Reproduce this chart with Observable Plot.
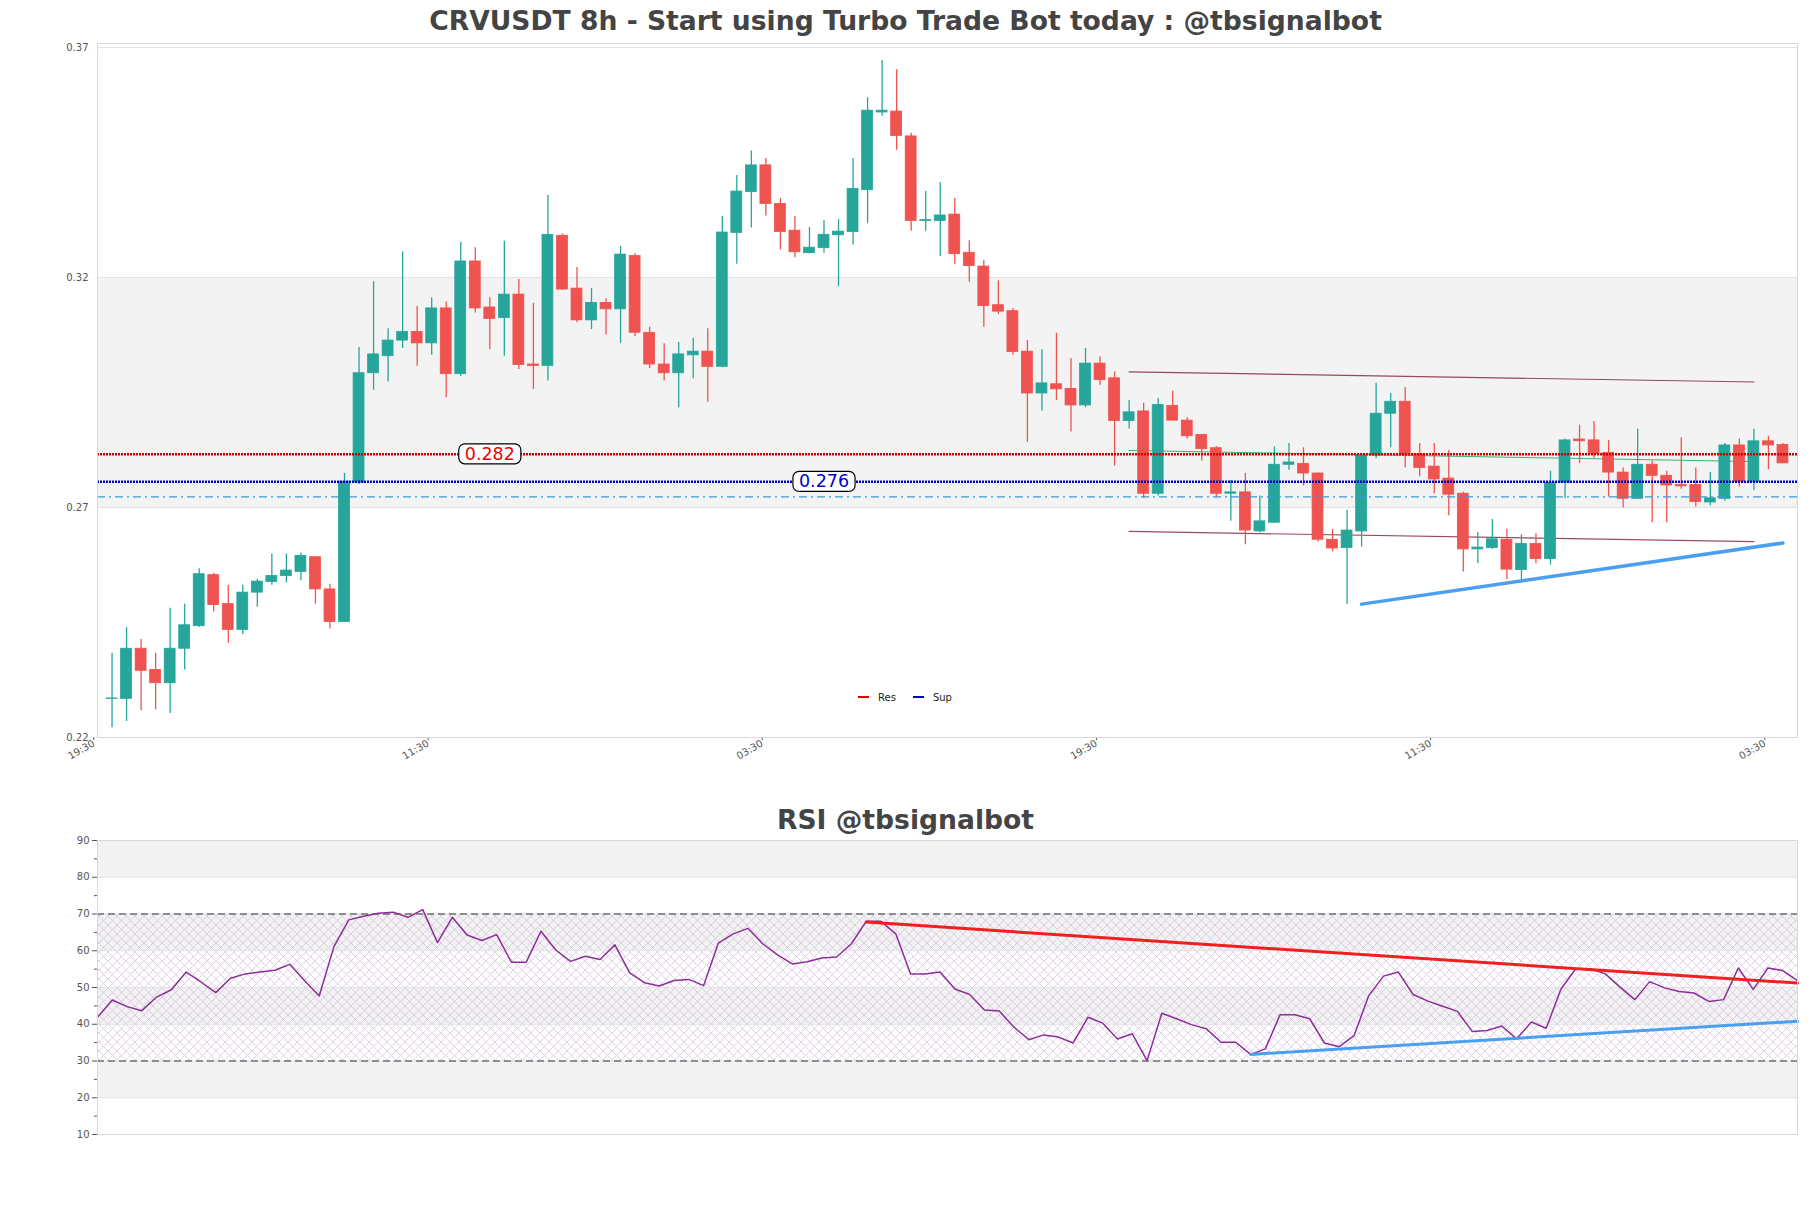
<!DOCTYPE html>
<html>
<head>
<meta charset="utf-8">
<script src="https://cdn.jsdelivr.net/npm/d3@7"></script>
<script src="https://cdn.jsdelivr.net/npm/@observablehq/plot@0.6"></script>
<style>
  html, body { margin: 0; padding: 0; background: #fff; }
  #page { position: relative; width: 1811px; height: 1208px; overflow: hidden; font-family: "DejaVu Sans", sans-serif; }
  .title { position: absolute; left: 0; width: 1811px; text-align: center; font-weight: bold; font-size: 26.6px; line-height: 30px; color: #444; white-space: nowrap; }
  .plotbox { position: absolute; left: 0; }
  #legend { position: absolute; left: 858px; top: 690px; font-size: 10px; color: #222; display: flex; align-items: center; height: 14px; }
  #legend .sw { display: inline-block; width: 11px; height: 2px; margin-right: 9px; }
  #legend .item { display: flex; align-items: center; margin-right: 17px; }
</style>
</head>
<body>
<svg width="0" height="0" style="position:absolute">
  <defs>
    <pattern id="rsiHatch" patternUnits="userSpaceOnUse" width="9" height="9">
      <path d="M0,0L9,9M9,0L0,9" stroke="#cbb5d8" stroke-width="0.6" fill="none"/>
    </pattern>
  </defs>
</svg>
<div id="page">
  <div class="title" style="top:6px">CRVUSDT 8h - Start using Turbo Trade Bot today : @tbsignalbot</div>
  <div class="plotbox" id="main" style="top:33px"></div>
  <div id="legend"></div>
  <div class="title" style="top:805px">RSI @tbsignalbot</div>
  <div class="plotbox" id="rsi" style="top:835px"></div>
</div>
<script>
// ---------- data ----------
const openP = [0.2284,0.2284,0.2393,0.2347,0.2318,0.2393,0.2442,0.2553,0.2490,0.2434,
0.2515,0.2538,0.2551,0.2560,0.2592,0.2522,0.2451,0.2754,0.2992,0.3029,
0.3063,0.3082,0.3057,0.3133,0.2990,0.3235,0.3135,0.3112,0.3163,0.3011,
0.3008,0.3291,0.3176,0.3107,0.3145,0.3131,0.3247,0.3080,0.3011,0.2992,
0.3031,0.3039,0.3006,0.3297,0.3386,0.3444,0.3360,0.3302,0.3253,0.3264,
0.3292,0.3299,0.3390,0.3559,0.3561,0.3507,0.3323,0.3323,0.3337,0.3254,
0.3224,0.3140,0.3127,0.3039,0.2948,0.2968,0.2958,0.2922,0.3013,0.2981,
0.2888,0.2909,0.2730,0.2921,0.2889,0.2858,0.2829,0.2730,0.2733,0.2648,
0.2667,0.2793,0.2795,0.2774,0.2630,0.2612,0.2648,0.2813,0.2904,0.2930,
0.2816,0.2789,0.2763,0.2730,0.2609,0.2612,0.2630,0.2564,0.2621,0.2588,
0.2754,0.2848,0.2846,0.2819,0.2776,0.2719,0.2793,0.2769,0.2749,0.2749,
0.2711,0.2719,0.2835,0.2756,0.2844,0.2836];
const highP = [0.2383,0.2439,0.2413,0.2383,0.2481,0.2490,0.2567,0.2557,0.2531,0.2531,
0.2544,0.2599,0.2599,0.2601,0.2592,0.2533,0.2774,0.3048,0.3191,0.3089,
0.3256,0.3137,0.3156,0.3147,0.3277,0.3265,0.3156,0.3279,0.3196,0.3144,
0.3379,0.3295,0.3222,0.3176,0.3154,0.3268,0.3252,0.3092,0.3056,0.3059,
0.3068,0.3089,0.3333,0.3422,0.3475,0.3459,0.3372,0.3333,0.3309,0.3324,
0.3326,0.3459,0.3591,0.3672,0.3652,0.3514,0.3387,0.3407,0.3372,0.3280,
0.3237,0.3193,0.3133,0.3063,0.3043,0.3079,0.3024,0.3046,0.3028,0.2995,
0.2933,0.2927,0.2937,0.2953,0.2895,0.2858,0.2832,0.2759,0.2774,0.2725,
0.2832,0.2839,0.2830,0.2775,0.2652,0.2694,0.2818,0.2970,0.2948,0.2961,
0.2839,0.2839,0.2824,0.2733,0.2646,0.2674,0.2653,0.2641,0.2643,0.2779,
0.2849,0.2879,0.2887,0.2846,0.2786,0.2870,0.2801,0.2779,0.2851,0.2786,
0.2776,0.2839,0.2849,0.2870,0.2855,0.2839];
const lowP = [0.2221,0.2235,0.2258,0.2260,0.2252,0.2347,0.2439,0.2473,0.2405,0.2424,
0.2483,0.2531,0.2536,0.2541,0.2490,0.2436,0.2451,0.2750,0.2955,0.2973,
0.3046,0.3007,0.3031,0.2939,0.2985,0.3123,0.3043,0.3029,0.3000,0.2957,
0.2975,0.3172,0.3102,0.3087,0.3075,0.3057,0.3072,0.3002,0.2975,0.2917,
0.2980,0.2929,0.3004,0.3229,0.3308,0.3334,0.3260,0.3243,0.3252,0.3253,
0.3180,0.3271,0.3318,0.3551,0.3477,0.3301,0.3301,0.3246,0.3229,0.3190,
0.3092,0.3120,0.3031,0.2842,0.2910,0.2933,0.2864,0.2917,0.2966,0.2790,
0.2871,0.2720,0.2725,0.2888,0.2849,0.2801,0.2723,0.2670,0.2619,0.2645,
0.2666,0.2781,0.2747,0.2625,0.2604,0.2490,0.2614,0.2806,0.2830,0.2786,
0.2767,0.2730,0.2682,0.2560,0.2578,0.2609,0.2543,0.2543,0.2578,0.2575,
0.2719,0.2796,0.2806,0.2723,0.2699,0.2718,0.2667,0.2667,0.2740,0.2701,
0.2704,0.2714,0.2745,0.2737,0.2782,0.2796];
const closeP = [0.2285,0.2393,0.2345,0.2318,0.2393,0.2444,0.2555,0.2488,0.2434,0.2515,
0.2539,0.2551,0.2563,0.2595,0.2522,0.2451,0.2756,0.2992,0.3033,0.3063,
0.3082,0.3057,0.3133,0.2990,0.3235,0.3133,0.3110,0.3163,0.3010,0.3008,
0.3293,0.3174,0.3107,0.3145,0.3131,0.3250,0.3080,0.3011,0.2992,0.3033,
0.3039,0.3006,0.3298,0.3387,0.3444,0.3360,0.3299,0.3255,0.3265,0.3293,
0.3300,0.3393,0.3563,0.3563,0.3508,0.3323,0.3325,0.3335,0.3251,0.3225,
0.3138,0.3126,0.3038,0.2948,0.2970,0.2957,0.2922,0.3013,0.2977,0.2888,
0.2907,0.2730,0.2923,0.2889,0.2855,0.2827,0.2730,0.2733,0.2650,0.2670,
0.2793,0.2798,0.2774,0.2630,0.2611,0.2650,0.2813,0.2904,0.2930,0.2815,
0.2786,0.2761,0.2728,0.2609,0.2613,0.2631,0.2565,0.2621,0.2588,0.2754,
0.2846,0.2844,0.2816,0.2776,0.2719,0.2793,0.2769,0.2748,0.2746,0.2712,
0.2720,0.2835,0.2756,0.2844,0.2835,0.2796];

const rsiValues = [41.9,46.6,44.8,43.7,47.4,49.4,54.2,51.5,48.6,52.5,
53.7,54.2,54.7,56.3,51.9,47.7,61.2,68.4,69.4,70.2,
70.5,69.1,71.2,62.2,69.1,64.3,62.8,64.4,56.9,56.9,
65.3,60.2,57.1,58.5,57.6,61.6,54.0,51.3,50.4,51.9,
52.2,50.5,62.1,64.6,66.1,61.9,58.9,56.4,57.0,58.0,
58.3,61.9,68.0,68.0,64.6,53.7,53.7,54.2,49.6,48.1,
43.9,43.6,39.2,35.8,37.1,36.5,34.9,41.9,40.3,36.0,
37.4,30.1,43.0,41.5,39.9,38.8,35.1,35.1,31.8,33.3,
42.6,42.6,41.5,34.9,33.9,36.9,47.8,53.1,54.2,48.1,
46.3,44.9,43.5,38.0,38.3,39.5,36.0,40.6,38.9,49.6,
55.1,55.1,53.7,50.1,46.7,51.6,49.9,48.9,48.5,46.2,
46.7,55.3,49.5,55.3,54.6,51.9];

// price axis
const yTicks = [0.22, 0.27, 0.32, 0.37];
const yTop = 0.3709;
// time axis (positions in candle-index units, labels)
const xTickPos = [-1.25, 21.75, 44.75, 67.75, 90.75, 113.75];
const xTickLabels = ["19:30", "11:30", "03:30", "19:30", "11:30", "03:30"];

// support / resistance levels
const levelNames = ["Res", "Sup"];
const levelValues = [0.2816, 0.2756];
const levelLabelAt = [26, 49];
const dashLevel = 0.2723;

// trend / channel lines  (candle index, price)
const channelTopIdx = [70, 113], channelTopVal = [0.2995, 0.2973];
const channelBotIdx = [70, 113], channelBotVal = [0.2648, 0.2626];
const midLineIdx = [70, 113], midLineVal = [0.2824, 0.2800];
const supTrendIdx = [86, 115], supTrendVal = [0.2490, 0.2623];

// RSI
const rsiTicks = [10, 20, 30, 40, 50, 60, 70, 80, 90];
const rsiMinor = [15, 25, 35, 45, 55, 65, 75, 85];
const rsiBounds = [30, 70];
const rsiResIdx = [52, 115], rsiResVal = [67.8, 51.2];
const rsiSupIdx = [78, 115], rsiSupVal = [31.8, 40.8];

// ---------- build ----------
const UP = "#26a69a", DOWN = "#ef5350";
const RES_C = "#d00000", SUP_C = "#0000cc";
const W = 1811;
const fmt3 = d3.format(".3f");
const pts = (xs, ys) => xs.map((x, k) => ({i: x, v: ys[k]}));

const candles = openP.map((o, i) => ({i, o, h: highP[i], l: lowP[i], c: closeP[i]}));
const candleColor = d => d.c >= d.o ? UP : DOWN;
const altBands = ticks => d3.range(ticks.length - 1).filter(k => k % 2 === 1).map(k => ({y1: ticks[k], y2: ticks[k + 1]}));
const tickLabelMap = new Map(xTickPos.map((p, k) => [p, xTickLabels[k]]));
const levelRows = levelValues.map((v, k) => ({i: levelLabelAt[k], v, c: k === 0 ? "#ee0000" : SUP_C}));

const mainChart = Plot.plot({
  width: W, height: 744,
  marginLeft: 97, marginRight: 14, marginTop: 10, marginBottom: 40,
  style: {fontFamily: "DejaVu Sans", fontSize: "10px", color: "#555", background: "transparent", overflow: "visible"},
  x: {type: "linear", domain: [-1, openP.length], axis: null},
  y: {type: "linear", domain: [yTicks[0], yTop], axis: null},
  color: {type: "identity"},
  marks: [
    Plot.rect(altBands(yTicks), {y1: "y1", y2: "y2", fill: "#f3f3f3"}),
    Plot.ruleY(yTicks, {stroke: "#e1e1e1", strokeWidth: 1}),
    Plot.line(pts(channelTopIdx, channelTopVal), {x: "i", y: "v", stroke: "#8b2a3e", strokeWidth: 1.2, strokeOpacity: 0.85}),
    Plot.line(pts(channelBotIdx, channelBotVal), {x: "i", y: "v", stroke: "#8b2a3e", strokeWidth: 1.2, strokeOpacity: 0.85}),
    Plot.line(pts(midLineIdx, midLineVal), {x: "i", y: "v", stroke: "#3cb371", strokeWidth: 1}),
    Plot.ruleX(candles, {x: "i", y1: "l", y2: "h", stroke: candleColor, strokeWidth: 1.3}),
    Plot.rect(candles, {
      x1: d => d.i - 0.375, x2: d => d.i + 0.375,
      y1: d => Math.min(d.o, d.c), y2: d => Math.max(d.o, d.c),
      fill: candleColor, stroke: candleColor, strokeWidth: 0.8
    }),
    Plot.ruleY([dashLevel], {stroke: "#3a9ad9", strokeWidth: 1.3, strokeDasharray: "8,4,2,4"}),
    Plot.ruleY([levelValues[0]], {stroke: RES_C, strokeWidth: 2.4, strokeDasharray: "2,1"}),
    Plot.ruleY([levelValues[1]], {stroke: SUP_C, strokeWidth: 2.4, strokeDasharray: "2,1"}),
    Plot.line(pts(supTrendIdx, supTrendVal), {x: "i", y: "v", stroke: "#4a9ff0", strokeWidth: 3.5}),
    Plot.text(levelRows, {x: "i", y: "v", text: d => fmt3(d.v), fill: "c", fontSize: 17.5, fontFamily: "DejaVu Sans"}),
    Plot.axisY(yTicks, {tickSize: 0, tickPadding: 9, tickFormat: d => d.toFixed(2), fontSize: 10, label: null}),
    Plot.axisX(xTickPos, {tickSize: 3, tickPadding: 2, tickRotate: -30, tickFormat: d => tickLabelMap.get(d), fontSize: 10, label: null}),
    Plot.frame({stroke: "#d9d9d9"})
  ]
});
document.getElementById("main").appendChild(mainChart);

// rounded boxes behind level labels
mainChart.querySelectorAll('g[aria-label="text"] text').forEach(t => {
  const bb = t.getBBox();
  const r = document.createElementNS("http://www.w3.org/2000/svg", "rect");
  r.setAttribute("x", bb.x - 6); r.setAttribute("y", bb.y);
  r.setAttribute("width", bb.width + 12); r.setAttribute("height", bb.height);
  r.setAttribute("rx", 6); r.setAttribute("fill", "#fff");
  r.setAttribute("stroke", "#000"); r.setAttribute("stroke-width", 1.2);
  if (t.getAttribute("transform")) r.setAttribute("transform", t.getAttribute("transform"));
  t.parentNode.insertBefore(r, t);
});

// legend
const legend = document.getElementById("legend");
levelNames.forEach((n, k) => {
  const it = document.createElement("span"); it.className = "item";
  const sw = document.createElement("span"); sw.className = "sw"; sw.style.background = k === 0 ? "#e00000" : SUP_C;
  it.appendChild(sw); it.appendChild(document.createTextNode(n));
  legend.appendChild(it);
});

const rsiChart = Plot.plot({
  width: W, height: 309,
  marginLeft: 97, marginRight: 14, marginTop: 5, marginBottom: 10,
  style: {fontFamily: "DejaVu Sans", fontSize: "10px", color: "#555", background: "transparent", overflow: "visible"},
  x: {type: "linear", domain: [0, rsiValues.length - 1], axis: null},
  y: {type: "linear", domain: [rsiTicks[0], rsiTicks[rsiTicks.length - 1]], axis: null},
  color: {type: "identity"},
  marks: [
    Plot.rect(altBands(rsiTicks), {y1: "y1", y2: "y2", fill: "#f2f2f2"}),
    Plot.rect([{y1: rsiBounds[0], y2: rsiBounds[1]}], {y1: "y1", y2: "y2", fill: "url(#rsiHatch)"}),
    Plot.ruleY(rsiTicks, {stroke: "#e1e1e1"}),
    Plot.ruleY(rsiBounds, {stroke: "#333", strokeWidth: 1.2, strokeDasharray: "7,4"}),
    Plot.line(rsiValues, {x: (d, i) => i, y: d => d, stroke: "#8e2c9a", strokeWidth: 1.5}),
    Plot.line(pts(rsiResIdx, rsiResVal), {x: "i", y: "v", stroke: "#ee2020", strokeWidth: 3}),
    Plot.line(pts(rsiSupIdx, rsiSupVal), {x: "i", y: "v", stroke: "#4a9ff0", strokeWidth: 3}),
    Plot.axisY(rsiTicks, {tickSize: 5, tickPadding: 3, fontSize: 10, label: null}),
    Plot.axisY(rsiMinor, {tickSize: 3, tickFormat: () => "", label: null}),
    Plot.frame({stroke: "#d9d9d9"})
  ]
});
document.getElementById("rsi").appendChild(rsiChart);
</script>
</body>
</html>
